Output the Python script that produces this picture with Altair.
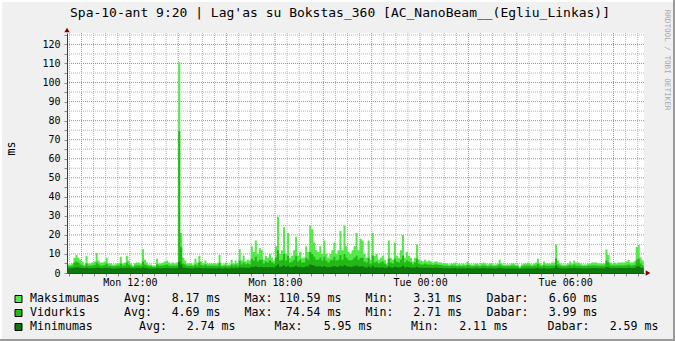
import altair as alt
import pandas as pd

# ---------------- data (hours since Monday 00:00, 5-minute steps) ----------------
START_HOUR = 9 + 25 / 60
STEP_HOURS = 5 / 60
X_DOMAIN = [9.4, 33.26]
Y_DOMAIN = [0, 126]

max_ms = [
    4.5, 4.5, 5, 8, 9.5, 8, 7, 6, 4.5, 9, 5, 5, 5.5, 6, 10.5, 6.5, 5.5, 5.5, 6, 8, 5, 5, 4.5, 4.5, 5,
    5, 8.5, 5, 5.5, 9, 6.5, 5, 4, 5, 5.5, 5.5, 5, 12.5, 7, 5.5, 4.5, 4.5, 4, 4, 7.5, 5, 5, 5.5, 6,
    6.5, 5.5, 5, 5.5, 5, 5.5, 110.59, 21, 8, 6.5, 5, 5, 5, 4.5, 7.5, 5.5, 9, 6, 5, 6.5, 5, 5, 5, 5,
    5, 5, 9.5, 4.5, 4.5, 5.5, 4.5, 4.5, 7, 5, 6.5, 5, 12.5, 6.5, 9, 6, 7, 6.5, 14, 11, 17, 10, 13,
    12, 7, 9, 8, 10, 8, 6.5, 14, 29.5, 10, 12, 24, 10, 21, 8, 9, 12, 19, 9, 11, 8, 8, 14, 11, 25,
    23, 16, 12, 11, 14, 10, 17, 10, 8, 10, 12, 16, 10, 12, 22, 12, 25, 14, 11, 10, 12, 14, 21, 12, 18,
    17, 10, 8, 17, 7, 21, 9, 10, 7, 8, 9, 7, 5, 17, 8, 7, 16, 9, 8, 12, 20, 8, 11, 9, 8,
    6, 8, 15, 7, 6.5, 6, 7, 6, 6.5, 6, 5.5, 6, 6, 5.5, 5.5, 5, 5, 5, 4.5, 5, 5, 5.5, 4.5, 5,
    4.5, 5, 4.5, 6, 5, 4.5, 4.5, 5, 5, 4.5, 5, 5.5, 5, 4.5, 5, 5, 4.5, 4.5, 5, 7, 5, 4.5, 4.5, 4.5,
    4.5, 5, 5, 4.5, 4.5, 3.31, 4.5, 5, 5, 5.5, 5, 4.5, 5, 5.5, 7.5, 5, 4.5, 6, 5, 5, 5, 5.5, 5.5,
    15, 6.5, 5, 4.5, 4.5, 4.5, 5, 6.2, 5, 6.6, 5.5, 5.5, 5, 4.5, 4.5, 4.5, 5, 5, 5.5, 5.5, 5.5, 5,
    5, 5, 5, 12.4, 9.4, 5.5, 5, 5.5, 5, 5.5, 5.5, 5.5, 5.5, 6, 6.8, 5.5, 5.5, 6, 13.6, 14.7, 8.1, 6.6,
]

avg_ms = [
    3.5, 3.5, 3.8, 5.5, 6, 5.5, 4.5, 4, 3.5, 5, 3.8, 3.8, 4, 4.2, 5.5, 4.5, 4, 3.8, 4.2, 5, 3.8, 3.8,
    3.5, 3.5, 3.8, 3.8, 5, 3.8, 4, 5.5, 4.5, 3.8, 3.3, 3.8, 4, 4, 3.8, 6, 4.5, 4, 3.5, 3.5, 3.2, 3.2,
    4.5, 3.8, 3.8, 4, 4.2,
    4.5, 4, 3.8, 4, 3.8, 4, 74.54, 13.5, 5, 4.5, 3.8, 3.8, 3.8, 3.5, 4.5, 4, 5.5, 4.2, 3.8, 4.5, 3.8,
    3.8, 3.8, 3.8, 3.8, 3.8, 5.5, 3.5, 3.5, 4, 3.5, 3.5, 4.5, 3.8, 4.5, 3.8, 6.5, 4.5, 5.5, 4.5, 5,
    4.5, 7.5, 6.5, 8.5, 6, 7,
    7, 5, 6, 5.5, 6.5, 5.5, 5, 8, 12, 6.5, 7, 10, 6.5, 9, 5.5, 6, 7, 9, 6, 7, 5.5, 5.5, 8, 7, 11,
    10, 8.5, 7, 7, 8, 6.5, 8.5, 6.5, 5.5, 6.5, 7, 8.5, 6.5, 7, 9.5, 7, 10, 8, 7, 6.5, 7, 8, 9, 7, 8,
    8, 6, 5.5, 8, 5, 9, 5.5, 6, 5, 5.5, 6, 5, 4, 7.5, 5.5, 5, 7.5, 6, 5.5, 7, 9, 5.5, 6.5, 6, 5.5,
    4.5, 5.5, 7.5, 5, 4.5, 4.5, 5, 4.5, 4.5, 4.5, 4.2, 4.5, 4.5, 4.2, 4.2, 3.8, 3.8, 3.8, 3.5, 3.8,
    3.8, 4, 3.5, 3.8,
    3.5, 3.8, 3.5, 4.2, 3.8, 3.5, 3.5, 3.8, 3.8, 3.5, 3.8, 4, 3.8, 3.5, 3.8, 3.8, 3.5, 3.5, 3.8, 4.5,
    3.8, 3.5, 3.5, 3.5, 3.5, 3.8, 3.8, 3.5, 3.5, 2.71, 3.5, 3.8, 3.8, 4, 3.8, 3.5, 3.8, 4, 4.8, 3.8,
    3.5, 4.2, 3.8, 3.8, 3.8, 4, 4,
    7.5, 4.5, 3.8, 3.5, 3.5, 3.5, 3.8, 4.2, 3.8, 4.5, 4, 4, 3.8, 3.5, 3.5, 3.5, 3.8, 3.8, 4, 4, 4,
    3.8, 3.8, 3.8, 3.8, 6.5, 5.5, 4, 3.8, 4, 3.8, 4, 4, 4, 4, 4.2, 4.5, 4, 4, 4.2, 7, 7.5, 5, 3.99,
]

min_ms = [
    2.5, 2.5, 2.6, 2.8, 3, 2.9, 2.7, 2.6, 2.5, 2.8, 2.5, 2.5, 2.6, 2.6, 2.9, 2.7, 2.6, 2.5, 2.6, 2.8,
    2.5, 2.5, 2.4, 2.4, 2.5, 2.5, 2.7, 2.5, 2.6, 2.8, 2.7, 2.5, 2.3, 2.5, 2.6, 2.6, 2.5, 3, 2.7, 2.6,
    2.4, 2.4, 2.3, 2.3, 2.6, 2.5, 2.5, 2.6, 2.6,
    2.7, 2.6, 2.5, 2.6, 2.5, 2.6, 5.95, 4.5, 2.9, 2.7, 2.5, 2.5, 2.5, 2.4, 2.7, 2.6, 2.8, 2.6, 2.5,
    2.7, 2.5, 2.5, 2.5, 2.5, 2.5, 2.5, 2.8, 2.4, 2.4, 2.6, 2.4, 2.4, 2.7, 2.5, 2.7, 2.5, 3, 2.7, 2.9,
    2.7, 2.8, 2.7, 3.3, 3.1, 3.6, 3, 3.2,
    3.2, 2.9, 3.1, 3, 3.2, 3, 2.9, 3.5, 4.5, 3.2, 3.4, 4, 3.2, 3.8, 3, 3.1, 3.3, 3.8, 3.1, 3.3, 3, 3,
    3.6, 3.4, 4.5, 4.2, 3.8, 3.4, 3.4, 3.6, 3.2, 3.7, 3.2, 3, 3.2, 3.4, 3.7, 3.2, 3.4, 4, 3.4, 4.2,
    3.6, 3.4, 3.2, 3.4, 3.6, 3.9, 3.4, 3.6,
    3.5, 3, 2.9, 3.5, 2.8, 3.8, 2.9, 3, 2.8, 2.9, 3, 2.8, 2.6, 3.4, 2.9, 2.8, 3.4, 3, 2.9, 3.2, 3.8,
    2.9, 3.1, 3, 2.9, 2.7, 2.9, 3.3, 2.8, 2.7, 2.7, 2.8, 2.7, 2.7, 2.7, 2.6, 2.7, 2.7, 2.6, 2.6, 2.5,
    2.5, 2.5, 2.4, 2.5, 2.5, 2.6, 2.4, 2.5,
    2.4, 2.5, 2.4, 2.6, 2.5, 2.4, 2.4, 2.5, 2.5, 2.4, 2.5, 2.6, 2.5, 2.4, 2.5, 2.5, 2.4, 2.4, 2.5, 2.7,
    2.5, 2.4, 2.4, 2.4, 2.3, 2.4, 2.4, 2.3, 2.3, 2.11, 2.3, 2.4, 2.4, 2.5, 2.4, 2.3, 2.4, 2.5, 2.8,
    2.4, 2.3, 2.6, 2.4, 2.4, 2.4, 2.5, 2.5,
    3.8, 2.7, 2.5, 2.4, 2.4, 2.4, 2.5, 2.6, 2.5, 2.7, 2.5, 2.5, 2.5, 2.4, 2.4, 2.4, 2.5, 2.5, 2.6, 2.6,
    2.6, 2.5, 2.5, 2.5, 2.5, 3.2, 3, 2.6, 2.5, 2.6, 2.5, 2.6, 2.6, 2.6, 2.6, 2.6, 2.7, 2.6, 2.6, 2.6,
    3.4, 3.5, 2.8, 2.59,
]

series_names = ["Maksimumas", "Vidurkis", "Minimumas"]
series_colors = ["#54E84A", "#22B816", "#0E780E"]
stat_avg = [8.17, 4.69, 2.74]
stat_max = [110.59, 74.54, 5.95]
stat_min = [3.31, 2.71, 2.11]
stat_cur = [6.60, 3.99, 2.59]

x_label_values = [12, 18, 24, 30]
x_label_texts = ["Mon 12:00", "Mon 18:00", "Tue 00:00", "Tue 06:00"]

title_text = "Spa-10-ant 9:20 | Lag'as su Bokstas_360 [AC_NanoBeam__(Egliu_Linkas)]"
watermark_text = "RRDTOOL / TOBI OETIKER"

# ---------------- layout ----------------
PAD_L, PAD_T, PAD_R, PAD_B = 67, 33, 31, 68
W, H = 577, 240
FONT = "DejaVu Sans Mono"
MINOR_GRID = "#B4B4B4"
MAJOR_GRID = "#E07878"
AXIS_COL = "#3C3C3C"
ARROW_COL = "#7F0000"

legend_row_y = [299, 313, 327]
legend_cols_std = [30, 124, 220.5, 244.5, 341.5, 365.5, 462, 486.5, 597.5]
legend_cols_last = [30, 139, 235.5, 274.5, 372.5, 411, 508, 547.5, 658.5]
legend_square_x = 18.5


def step_frame(values):
    n = len(values)
    hours = [START_HOUR + i * STEP_HOURS for i in range(n)] + [START_HOUR + n * STEP_HOURS]
    return pd.DataFrame({"hour": hours, "ms": list(values) + [values[-1]]})


xs = alt.Scale(domain=X_DOMAIN, nice=False, zero=False)
ys = alt.Scale(domain=Y_DOMAIN, nice=False, zero=False)

x_tick_vals = [9.5 + 0.5 * k for k in range(48)]
x_expr = ""
for v, t in zip(x_label_values, x_label_texts):
    x_expr += f"datum.value == {v} ? '{t}' : "
x_expr += "''"

x_axis = alt.Axis(values=x_tick_vals, labelExpr=x_expr, grid=False, title=None,
                  domainColor=AXIS_COL, tickColor="#8A8A8A", tickSize=3,
                  labelFont=FONT, labelFontSize=10, labelColor="#000000",
                  labelPadding=1, labelFlush=False, labelOverlap=False, zindex=1)
y_axis = alt.Axis(values=list(range(0, 126, 5)),
                  labelExpr="datum.value % 10 == 0 ? datum.label : ''",
                  grid=False, title="ms", titleFont=FONT, titleFontSize=11.6,
                  titleFontWeight="normal", titleColor="#000000", titleAngle=270,
                  titleX=-56, titleY=115, titleAlign="center", titleBaseline="middle",
                  domainColor=AXIS_COL, tickColor="#8A8A8A", tickSize=3,
                  labelFont=FONT, labelFontSize=10, labelColor="#000000",
                  labelPadding=4, labelFlush=False, labelOverlap=False, zindex=1)


def X(field="hour:Q"):
    return alt.X(field, scale=xs, axis=x_axis)


def Y(field="ms:Q"):
    return alt.Y(field, scale=ys, axis=y_axis)


layers = []

# grid
minor_x = [v for v in x_tick_vals if not (v == int(v) and int(v) % 2 == 0)]
major_x = [v for v in x_tick_vals if v == int(v) and int(v) % 2 == 0]
minor_y = [v for v in range(5, 126, 10)]
major_y = [v for v in range(10, 126, 10)]
for vals, col in [(minor_x, MINOR_GRID), (major_x, MAJOR_GRID)]:
    layers.append(alt.Chart(pd.DataFrame({"hour": vals})).mark_rule(
        color=col, strokeDash=[1, 1], strokeWidth=1).encode(x=X()))
for vals, col in [(minor_y, MINOR_GRID), (major_y, MAJOR_GRID)]:
    layers.append(alt.Chart(pd.DataFrame({"ms": vals})).mark_rule(
        color=col, strokeDash=[1, 1], strokeWidth=1).encode(y=Y()))

# data areas
for vals, col in zip([max_ms, avg_ms, min_ms], series_colors):
    layers.append(alt.Chart(step_frame(vals)).mark_area(
        interpolate="step-after", color=col, opacity=1).encode(x=X(), y=Y()))

dummy = pd.DataFrame({"a": [0]})

# arrows at the axis ends
arrow_df = pd.DataFrame({"hour": [X_DOMAIN[0]], "ms": [Y_DOMAIN[1]]})
layers.append(alt.Chart(arrow_df).mark_point(shape="triangle-up", filled=True, color=ARROW_COL,
                                             size=28, opacity=1, yOffset=-3).encode(x=X(), y=Y()))
arrow_df2 = pd.DataFrame({"hour": [X_DOMAIN[1]], "ms": [Y_DOMAIN[0]]})
layers.append(alt.Chart(arrow_df2).mark_point(shape="triangle-right", filled=True, color=ARROW_COL,
                                              size=28, opacity=1, xOffset=4).encode(x=X(), y=Y()))

# title & watermark
layers.append(alt.Chart(dummy).mark_text(font=FONT, fontSize=13, color="#000000",
                                         align="center", baseline="middle").encode(
    x=alt.value(340 - PAD_L), y=alt.value(13 - PAD_T), text=alt.value(title_text)))
layers.append(alt.Chart(dummy).mark_text(font=FONT, fontSize=7.6, color="#AAAAAA", angle=90,
                                         align="center", baseline="middle").encode(
    x=alt.value(667 - PAD_L), y=alt.value(60 - PAD_T), text=alt.value(watermark_text)))

# frame
for (x1, y1, x2, y2, col) in [(0, 1, 675, 1, "#FFFFFF"), (1, 0, 1, 341, "#FFFFFF"),
                              (0, 340, 675, 340, "#9A9A9A"), (674, 0, 674, 341, "#9A9A9A")]:
    layers.append(alt.Chart(dummy).mark_rule(color=col, strokeWidth=2).encode(
        x=alt.value(x1 - PAD_L), x2=alt.value(x2 - PAD_L),
        y=alt.value(y1 - PAD_T), y2=alt.value(y2 - PAD_T)))

# legend
left_rows, right_rows = [], []
for r, name in enumerate(series_names):
    cols = legend_cols_std if r < 2 else legend_cols_last
    yy = legend_row_y[r] - PAD_T
    left_rows += [
        {"px": cols[0] - PAD_L, "py": yy, "t": name},
        {"px": cols[1] - PAD_L, "py": yy, "t": "Avg:"},
        {"px": cols[3] - PAD_L, "py": yy, "t": "Max:"},
        {"px": cols[5] - PAD_L, "py": yy, "t": "Min:"},
        {"px": cols[7] - PAD_L, "py": yy, "t": "Dabar:"},
    ]
    right_rows += [
        {"px": cols[2] - PAD_L, "py": yy, "t": f"{stat_avg[r]:.2f} ms"},
        {"px": cols[4] - PAD_L, "py": yy, "t": f"{stat_max[r]:.2f} ms"},
        {"px": cols[6] - PAD_L, "py": yy, "t": f"{stat_min[r]:.2f} ms"},
        {"px": cols[8] - PAD_L, "py": yy, "t": f"{stat_cur[r]:.2f} ms"},
    ]
    layers.append(alt.Chart(dummy).mark_square(size=49, color=series_colors[r], opacity=1,
                                               stroke="#000000", strokeWidth=1).encode(
        x=alt.value(legend_square_x - PAD_L), y=alt.value(yy)))

for rows, al in [(left_rows, "left"), (right_rows, "right")]:
    layers.append(alt.Chart(pd.DataFrame(rows)).mark_text(
        font=FONT, fontSize=11.6, color="#000000", align=al, baseline="middle").encode(
        x=alt.X("px:Q", scale=None, axis=None),
        y=alt.Y("py:Q", scale=None, axis=None),
        text="t:N"))

chart = alt.layer(*layers).properties(
    width=W, height=H,
    autosize=alt.AutoSizeParams(type="none"),
    padding={"left": PAD_L, "top": PAD_T, "right": PAD_R, "bottom": PAD_B},
    background="#F0F0F0",
).configure_view(stroke=None, fill="#FFFFFF")

chart.save("out.html", embed_options={"renderer": "svg", "actions": False})
